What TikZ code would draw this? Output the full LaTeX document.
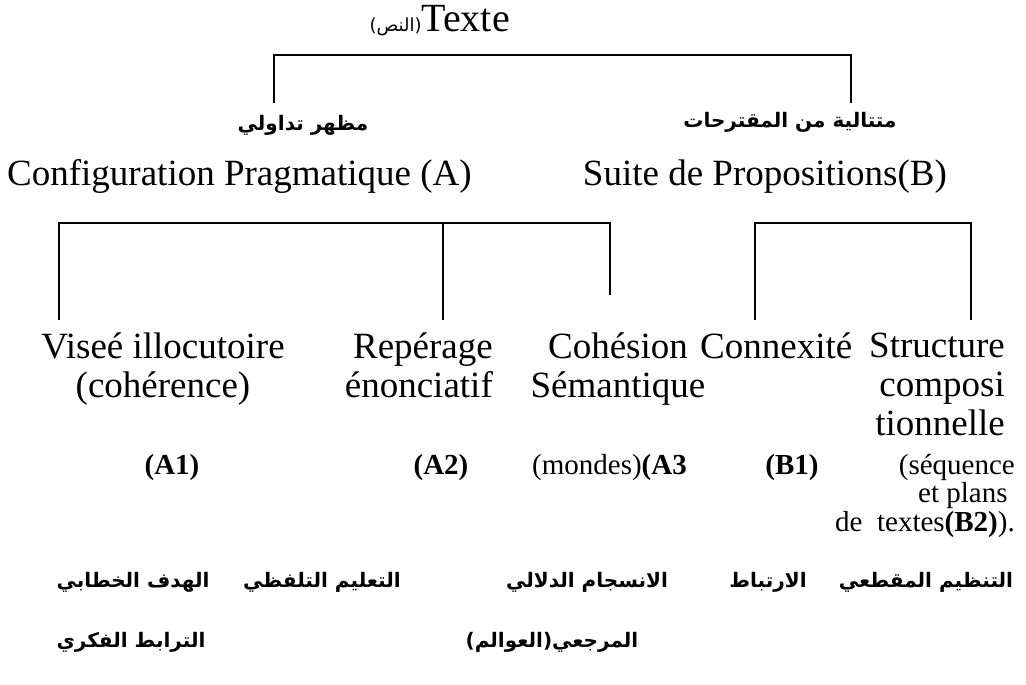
\documentclass[tikz,border=0pt]{standalone}
\usepackage{fontspec}
\setmainfont{Liberation Serif}[BoldFont={Liberation Serif Bold}]
\newfontfamily\arabicfont[Script=Arabic]{DejaVu Sans}
\TeXXeTstate=1
\newcommand{\artxt}[1]{{\arabicfont\bfseries\beginR #1\endR}}

\tikzset{
  lat/.style={font=\fontsize{37}{39}\selectfont, inner sep=0pt},
  latsmall/.style={font=\fontsize{29}{28.5}\selectfont, inner sep=0pt},
  arab/.style={font=\fontsize{20}{20}\selectfont, inner sep=0pt},
  branch/.style={line width=1.3pt}
}

\begin{document}
\begin{tikzpicture}[x=1pt,y=-1pt]
\useasboundingbox (0,0) rectangle (1026,685);

% Title
\node[anchor=base east, inner sep=0pt] (texte) at (510,32) {{\arabicfont\fontsize{18}{18}\selectfont\beginR(النص)\endR}{\fontsize{40}{40}\selectfont Texte}};

% Headings in Arabic
\node[arab] (headA) at (303,125) {\artxt{مظهر تداولي}};
\node[arab] (headB) at (790,122) {\artxt{متتالية من المقترحات}};

% Top branch
\coordinate (topA) at (274,103);
\coordinate (topB) at (851,103);
\coordinate (topbar) at (560,55);
\draw[branch] (topA) |- (topbar) -| (topB);

% Second level
\node[lat, anchor=base west] (confA) at (7,185) {Configuration Pragmatique (A)};
\node[lat, anchor=base east] (suiteB) at (947,185) {Suite de Propositions(B)};

% Branches under A and B
\coordinate (a1) at (59,320);
\coordinate (a2) at (443,320);
\coordinate (a3) at (610,295);
\coordinate (b1) at (755,320);
\coordinate (b2) at (971,320);
\coordinate (barA) at (330,223);
\coordinate (barB) at (860,223);
\draw[branch] (a1) |- (barA) -| (a3);
\draw[branch] (a2) -- (a2 |- barA);
\draw[branch] (b1) |- (barB) -| (b2);

% Third level
\node[lat, align=center, anchor=north] (viseeA1) at (163,333) {Viseé illocutoire\\(cohérence)};
\node[lat, align=right, anchor=north east] (reperA2) at (493,333) {Repérage\\énonciatif};
\node[lat, align=center, anchor=north] (cohesA3) at (618,333) {Cohésion\\Sémantique};
\node[lat, anchor=base west] (connB1) at (700,358) {Connexité};
\node[lat, align=right, anchor=north east] (structB2) at (1005,333) {Structure\\composi\\tionnelle};

% Codes
\node[latsmall, anchor=base] (codeA1) at (172,474) {\textbf{(A1)}};
\node[latsmall, anchor=base] (codeA2) at (441,474) {\textbf{(A2)}};
\node[latsmall, anchor=base west] (codeA3) at (532,474) {(mondes)\textbf{(A3}};
\node[latsmall, anchor=base] (codeB1) at (792,474) {\textbf{(B1)}};
\node[latsmall, align=right, anchor=north east] (codeB2) at (1015,454) {(séquence~\\et plans~~\\de~ textes\textbf{(B2)}).};

% Arabic terms
\node[arab] (arA1) at (133,582) {\artxt{الهدف الخطابي}};
\node[arab] (arA2) at (322,582) {\artxt{التعليم التلفظي}};
\node[arab] (arA3) at (587,582) {\artxt{الانسجام الدلالي}};
\node[arab] (arB1) at (768,582) {\artxt{الارتباط}};
\node[arab] (arB2) at (926,582) {\artxt{التنظيم المقطعي}};
\node[arab] (arA1b) at (131,642) {\artxt{الترابط الفكري}};
\node[arab] (arA3b) at (552,642) {\artxt{المرجعي(العوالم)}};

\end{tikzpicture}
\end{document}
